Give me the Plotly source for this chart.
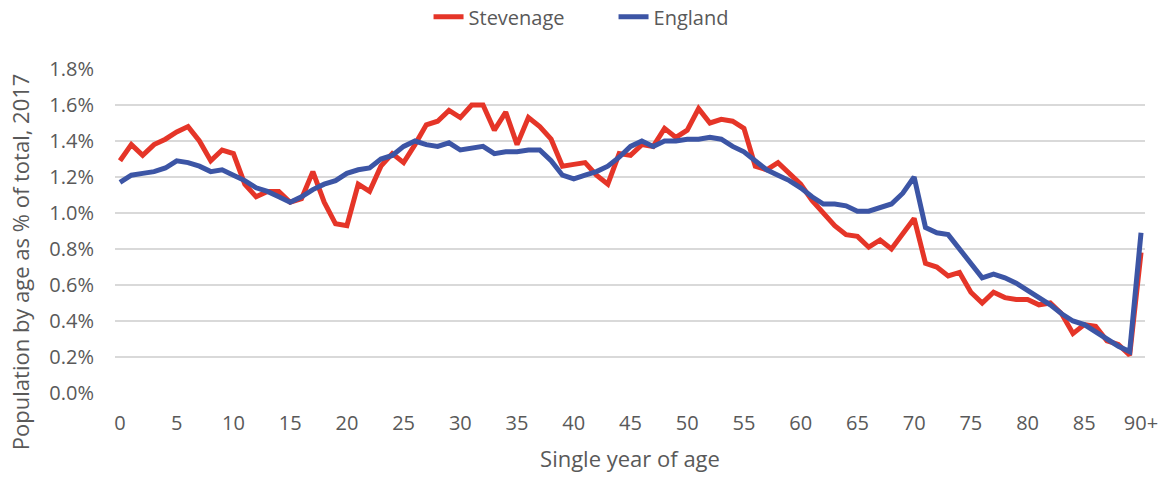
import plotly.graph_objects as go

# Single year of age (last bucket is 90 and over)
ages = list(range(91))
tick_vals = list(range(0, 91, 5))
tick_text = [str(v) for v in range(0, 90, 5)] + ["90+"]

# Population by age as % of total, 2017
stevenage = [
    1.29, 1.38, 1.32, 1.38, 1.41, 1.45, 1.48, 1.40, 1.29, 1.35,
    1.33, 1.16, 1.09, 1.12, 1.12, 1.06, 1.08, 1.23, 1.06, 0.94,
    0.93, 1.16, 1.12, 1.26, 1.33, 1.28, 1.38, 1.49, 1.51, 1.57,
    1.53, 1.60, 1.60, 1.46, 1.56, 1.38, 1.53, 1.48, 1.41, 1.26,
    1.27, 1.28, 1.21, 1.16, 1.33, 1.32, 1.38, 1.37, 1.47, 1.42,
    1.46, 1.58, 1.50, 1.52, 1.51, 1.47, 1.26, 1.24, 1.28, 1.22,
    1.16, 1.07, 1.00, 0.93, 0.88, 0.87, 0.81, 0.85, 0.80, 0.88,
    0.97, 0.72, 0.70, 0.65, 0.67, 0.56, 0.50, 0.56, 0.53, 0.52,
    0.52, 0.49, 0.50, 0.44, 0.33, 0.38, 0.37, 0.29, 0.27, 0.21,
    0.78,
]
england = [
    1.17, 1.21, 1.22, 1.23, 1.25, 1.29, 1.28, 1.26, 1.23, 1.24,
    1.21, 1.18, 1.14, 1.12, 1.09, 1.06, 1.09, 1.13, 1.16, 1.18,
    1.22, 1.24, 1.25, 1.30, 1.32, 1.37, 1.40, 1.38, 1.37, 1.39,
    1.35, 1.36, 1.37, 1.33, 1.34, 1.34, 1.35, 1.35, 1.29, 1.21,
    1.19, 1.21, 1.23, 1.26, 1.31, 1.37, 1.40, 1.37, 1.40, 1.40,
    1.41, 1.41, 1.42, 1.41, 1.37, 1.34, 1.29, 1.24, 1.21, 1.18,
    1.14, 1.09, 1.05, 1.05, 1.04, 1.01, 1.01, 1.03, 1.05, 1.11,
    1.20, 0.92, 0.89, 0.88, 0.80, 0.71, 0.64, 0.66, 0.64, 0.61,
    0.57, 0.53, 0.49, 0.44, 0.40, 0.38, 0.34, 0.30, 0.26, 0.23,
    0.89,
]

RED = "#E53528"
BLUE = "#3C55A5"
TEXT = "#595959"
GRID = "#D9D9D9"
FONT = "Open Sans"

fig = go.Figure()
fig.add_trace(go.Scatter(x=ages, y=stevenage, name="Stevenage", mode="lines",
                         line=dict(color=RED, width=5)))
fig.add_trace(go.Scatter(x=ages, y=england, name="England", mode="lines",
                         line=dict(color=BLUE, width=5)))

# Vertical axis title, placed a little below the plot-area centre
fig.add_annotation(
    text="Population by age as % of total, 2017",
    xref="paper", yref="paper", x=-0.0922, y=0.404,
    xanchor="center", yanchor="middle", textangle=-90,
    showarrow=False, font=dict(size=22, color=TEXT),
)

fig.update_layout(
    width=1162, height=480,
    margin=dict(l=115, r=17, t=69, b=87),
    paper_bgcolor="white", plot_bgcolor="white",
    font=dict(family=FONT, color=TEXT, size=20),
    showlegend=True,
    legend=dict(orientation="h", xref="container", yref="container",
                x=0.528, xanchor="center", y=0.965, yanchor="middle",
                font=dict(size=20, color=TEXT), traceorder="normal",
                itemwidth=30, entrywidth=140, entrywidthmode="pixels"),
    xaxis=dict(
        range=[-0.44, 90.35], automargin=False,
        tickmode="array", tickvals=tick_vals, ticktext=tick_text,
        showgrid=False, zeroline=False, showline=False,
        ticks="", ticklabelstandoff=16,
        tickfont=dict(size=20, color=TEXT),
        title=dict(text="Single year of age", font=dict(size=22, color=TEXT),
                   standoff=16),
    ),
    yaxis=dict(
        range=[0, 1.8], dtick=0.2, automargin=False,
        tickformat=".1f", ticksuffix="%",
        showgrid=True, gridcolor=GRID, gridwidth=1.5,
        zeroline=False, showline=False, ticks="",
        ticklabelstandoff=20,
        tickfont=dict(size=20, color=TEXT),
    ),
)

fig.write_html("out.html")
